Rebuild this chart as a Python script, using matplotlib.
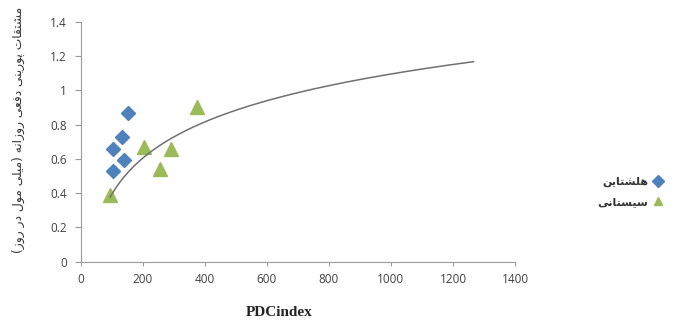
import numpy as np
import matplotlib
matplotlib.use("Agg")
import matplotlib.pyplot as plt
from matplotlib.ticker import FixedLocator, FuncFormatter

# ---------------- data ----------------
holstein_x = [153, 134, 105, 141, 105]
holstein_y = [0.866, 0.729, 0.656, 0.593, 0.529]
sistani_x = [95, 205, 291, 256, 376]
sistani_y = [0.39, 0.67, 0.655, 0.54, 0.905]
trend_a = 0.305          # y = a*ln(x) + b (log trendline)
trend_b = -1.012
trend_x_start = 95
trend_x_end = 1266
x_ticks = [0, 200, 400, 600, 800, 1000, 1200, 1400]
y_ticks = [0, 0.2, 0.4, 0.6, 0.8, 1, 1.2, 1.4]
series_names = ["هلشتاین", "سیستانی"]
y_title = "مشتقات پورینی دفعی روزانه (میلی مول در روز)"
x_title = "PDCindex"

# ---------- simple Persian shaping (presentation forms) + RTL ----------
FORMS = {
    'ا': ('\uFE8D', '\uFE8E', None, None),
    'ت': ('\uFE95', '\uFE96', '\uFE97', '\uFE98'),
    'د': ('\uFEA9', '\uFEAA', None, None),
    'ر': ('\uFEAD', '\uFEAE', None, None),
    'ز': ('\uFEAF', '\uFEB0', None, None),
    'س': ('\uFEB1', '\uFEB2', '\uFEB3', '\uFEB4'),
    'ش': ('\uFEB5', '\uFEB6', '\uFEB7', '\uFEB8'),
    'ع': ('\uFEC9', '\uFECA', '\uFECB', '\uFECC'),
    'ف': ('\uFED1', '\uFED2', '\uFED3', '\uFED4'),
    'ق': ('\uFED5', '\uFED6', '\uFED7', '\uFED8'),
    'ل': ('\uFEDD', '\uFEDE', '\uFEDF', '\uFEE0'),
    'م': ('\uFEE1', '\uFEE2', '\uFEE3', '\uFEE4'),
    'ن': ('\uFEE5', '\uFEE6', '\uFEE7', '\uFEE8'),
    'ه': ('\uFEE9', '\uFEEA', '\uFEEB', '\uFEEC'),
    'و': ('\uFEED', '\uFEEE', None, None),
    'ی': ('\uFBFC', '\uFBFD', '\uFBFE', '\uFBFF'),
    'پ': ('\uFB56', '\uFB57', '\uFB58', '\uFB59'),
}


def dual(c):
    return c in FORMS and FORMS[c][2] is not None


def joining(c):
    return c in FORMS


def shape(text):
    out = []
    n = len(text)
    for i, c in enumerate(text):
        if c not in FORMS:
            out.append(c)
            continue
        prev_c = text[i - 1] if i > 0 else ''
        next_c = text[i + 1] if i < n - 1 else ''
        pj = dual(prev_c)
        nj = dual(c) and joining(next_c)
        iso, fin, ini, med = FORMS[c]
        if pj and nj:
            out.append(med)
        elif pj:
            out.append(fin)
        elif nj:
            out.append(ini)
        else:
            out.append(iso)
    vis = ''.join(reversed(out))
    vis = vis.translate(str.maketrans({'(': ')', ')': '('}))
    return vis


# ---------------- figure ----------------
W, H = 674, 321
fig = plt.figure(figsize=(W / 100, H / 100), dpi=100)
ax = fig.add_axes([80.7 / W, 1 - 261.7 / H, (515 - 80.7) / W, (261.7 - 21.7) / H])

blue = '#4F81BD'
green = '#9BBB59'
axis_col = '#9a9a9a'
text_col = '#404040'

xs = np.linspace(trend_x_start, trend_x_end, 300)
ax.plot(xs, trend_a * np.log(xs) + trend_b, color='#707070', lw=1.1, zorder=3)

ax.plot(holstein_x, holstein_y, linestyle='none', marker='D', ms=7.5,
        color=blue, mec=blue, label=shape(series_names[0]), zorder=2)
ax.plot(sistani_x, sistani_y, linestyle='none', marker='^', ms=10,
        color=green, mec=green, label=shape(series_names[1]), zorder=2)

ax.set_xlim(0, 1400)
ax.set_ylim(0, 1.4)
ax.xaxis.set_major_locator(FixedLocator(x_ticks))
ax.yaxis.set_major_locator(FixedLocator(y_ticks))
ax.yaxis.set_major_formatter(FuncFormatter(lambda v, p: ('%g' % round(v, 2))))

for s in ['top', 'right']:
    ax.spines[s].set_visible(False)
for s in ['left', 'bottom']:
    ax.spines[s].set_color(axis_col)
    ax.spines[s].set_linewidth(0.8)

ax.tick_params(axis='both', direction='out', width=0.8,
               color=axis_col, labelcolor=text_col, labelsize=8.5)
ax.tick_params(axis='y', length=4, pad=6)
ax.tick_params(axis='x', length=3, pad=5)
for lab in ax.get_xticklabels() + ax.get_yticklabels():
    lab.set_family('Open Sans')

fig.text(18 / W, 1 - 130 / H, shape(y_title), rotation=90, ha='center',
         va='center', fontsize=8.8, family='DejaVu Sans', color='#333333')
fig.text(279 / W, 1 - 312 / H, x_title, ha='center', va='center',
         fontsize=11, family='Liberation Serif', weight='bold', color='#222222')

leg = ax.legend(loc='center right', bbox_to_anchor=(664 / W, 1 - 192 / H),
                bbox_transform=fig.transFigure, frameon=False, markerfirst=False,
                handlelength=1.0, handletextpad=0.4, labelspacing=0.9,
                borderpad=0, borderaxespad=0,
                prop={'family': 'DejaVu Sans', 'size': 8, 'weight': 'bold'})
for t in leg.get_texts():
    t.set_color('#333333')
for h in leg.legend_handles:
    h.set_markersize(6)

fig.savefig('out.png', dpi=100)
